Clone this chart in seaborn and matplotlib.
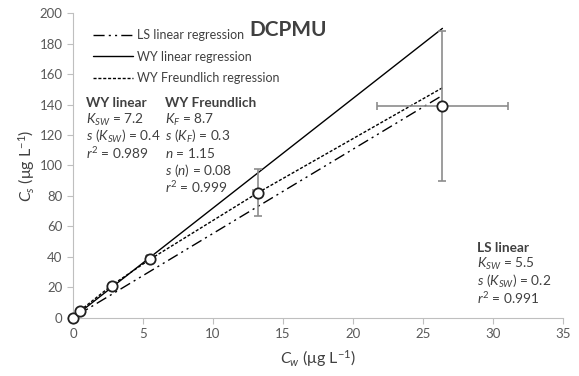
import matplotlib
matplotlib.use('Agg')
import matplotlib.pyplot as plt
import seaborn as sns
import pandas as pd

# 数据：实测点 (Cw, Cs) 及误差
cw = [0.0, 0.5, 2.8, 5.5, 13.2, 26.4]
cs = [0.0, 4.5, 21.0, 38.5, 82.0, 139.0]
cw_err = [0.0, 0.05, 0.2, 0.3, 0.3, 4.7]
cs_err = [0.0, 0.5, 1.5, 2.5, 15.5, 49.5]

# 回归线（从图上读取的端点）
ls_x = [0.0, 26.4]
ls_y = [0.0, 146.0]
wy_x = [0.0, 26.4]
wy_y = [0.0, 190.0]
fr_x = [0.0, 0.5, 2.8, 5.5, 13.2, 26.4]
fr_y = [0.0, 4.6, 21.5, 38.3, 82.0, 151.0]

xticks = [0, 5, 10, 15, 20, 25, 30, 35]
yticks = [0, 20, 40, 60, 80, 100, 120, 140, 160, 180, 200]

sns.set_style('ticks')
plt.rcParams['font.family'] = ['Lato', 'DejaVu Sans']
plt.rcParams['mathtext.fontset'] = 'custom'
plt.rcParams['mathtext.rm'] = 'Lato'
plt.rcParams['mathtext.it'] = 'Lato:italic'
plt.rcParams['mathtext.bf'] = 'Lato:bold'

txt = '#404040'
grey = '#8c8c8c'

fig = plt.figure(figsize=(5.79, 3.76), dpi=100)
ax = fig.add_axes([0.126, 0.155, 0.846, 0.81])

lines = pd.concat([
    pd.DataFrame({'x': ls_x, 'y': ls_y, 'fit': 'LS linear regression'}),
    pd.DataFrame({'x': wy_x, 'y': wy_y, 'fit': 'WY linear regression'}),
    pd.DataFrame({'x': fr_x, 'y': fr_y, 'fit': 'WY Freundlich regression'}),
])
sns.lineplot(data=lines, x='x', y='y', style='fit', ax=ax, color='black',
             linewidth=1.0, sort=False, estimator=None,
             dashes={'LS linear regression': (8, 3, 1.5, 3, 1.5, 3),
                     'WY linear regression': '',
                     'WY Freundlich regression': (2.2, 1.3)})

# 误差线和数据点
ax.errorbar(cw, cs, xerr=cw_err, yerr=cs_err, fmt='none', ecolor=grey,
            elinewidth=1.2, capsize=3, capthick=1.2, zorder=3)
sns.scatterplot(x=cw, y=cs, ax=ax, s=55, facecolor='white',
                edgecolor='#202020', linewidth=1.3, zorder=4, legend=False,
                clip_on=False)

ax.set_xlim(0, 35)
ax.set_ylim(0, 200)
ax.set_xticks(xticks)
ax.set_yticks(yticks)
ax.tick_params(colors='#bfbfbf', labelcolor='#595959', labelsize=9.5, length=4)
for s in ['left', 'bottom']:
    ax.spines[s].set_color('#bfbfbf')
sns.despine(ax=ax)

ax.set_xlabel(r'$C_w$ (μg L$^{-1}$)', fontsize=11.5, color=txt, labelpad=6)
ax.set_ylabel(r'$C_s$ (μg L$^{-1}$)', fontsize=11.5, color=txt, labelpad=2)

leg = ax.legend(loc='upper left', bbox_to_anchor=(0.02, 0.98), frameon=False,
                fontsize=9, handlelength=3.2, handletextpad=0.3,
                labelspacing=0.75, borderaxespad=0.4)
for t in leg.get_texts():
    t.set_color(txt)

ax.text(15.4, 189, 'DCPMU', fontsize=15, fontweight='bold', color=txt,
        ha='center', va='center')

kw = dict(fontsize=9.8, color=txt, va='center')
ax.text(0.9, 141, 'WY linear', fontweight='bold', **kw)
ax.text(0.9, 130, r'$K_{SW}$ = 7.2', **kw)
ax.text(0.9, 119, r'$s\ (K_{SW})$ = 0.4', **kw)
ax.text(0.9, 108, r'$r^2$ = 0.989', **kw)

ax.text(6.6, 141, 'WY Freundlich', fontweight='bold', **kw)
ax.text(6.6, 130, r'$K_F$ = 8.7', **kw)
ax.text(6.6, 119, r'$s\ (K_F)$ = 0.3', **kw)
ax.text(6.6, 108, r'$n$ = 1.15', **kw)
ax.text(6.6, 97, r'$s\ (n)$ = 0.08', **kw)
ax.text(6.6, 86, r'$r^2$ = 0.999', **kw)

ax.text(28.9, 46, 'LS linear', fontweight='bold', **kw)
ax.text(28.9, 35, r'$K_{SW}$ = 5.5', **kw)
ax.text(28.9, 24, r'$s\ (K_{SW})$ = 0.2', **kw)
ax.text(28.9, 13, r'$r^2$ = 0.991', **kw)

fig.savefig('out.png', dpi=100)
